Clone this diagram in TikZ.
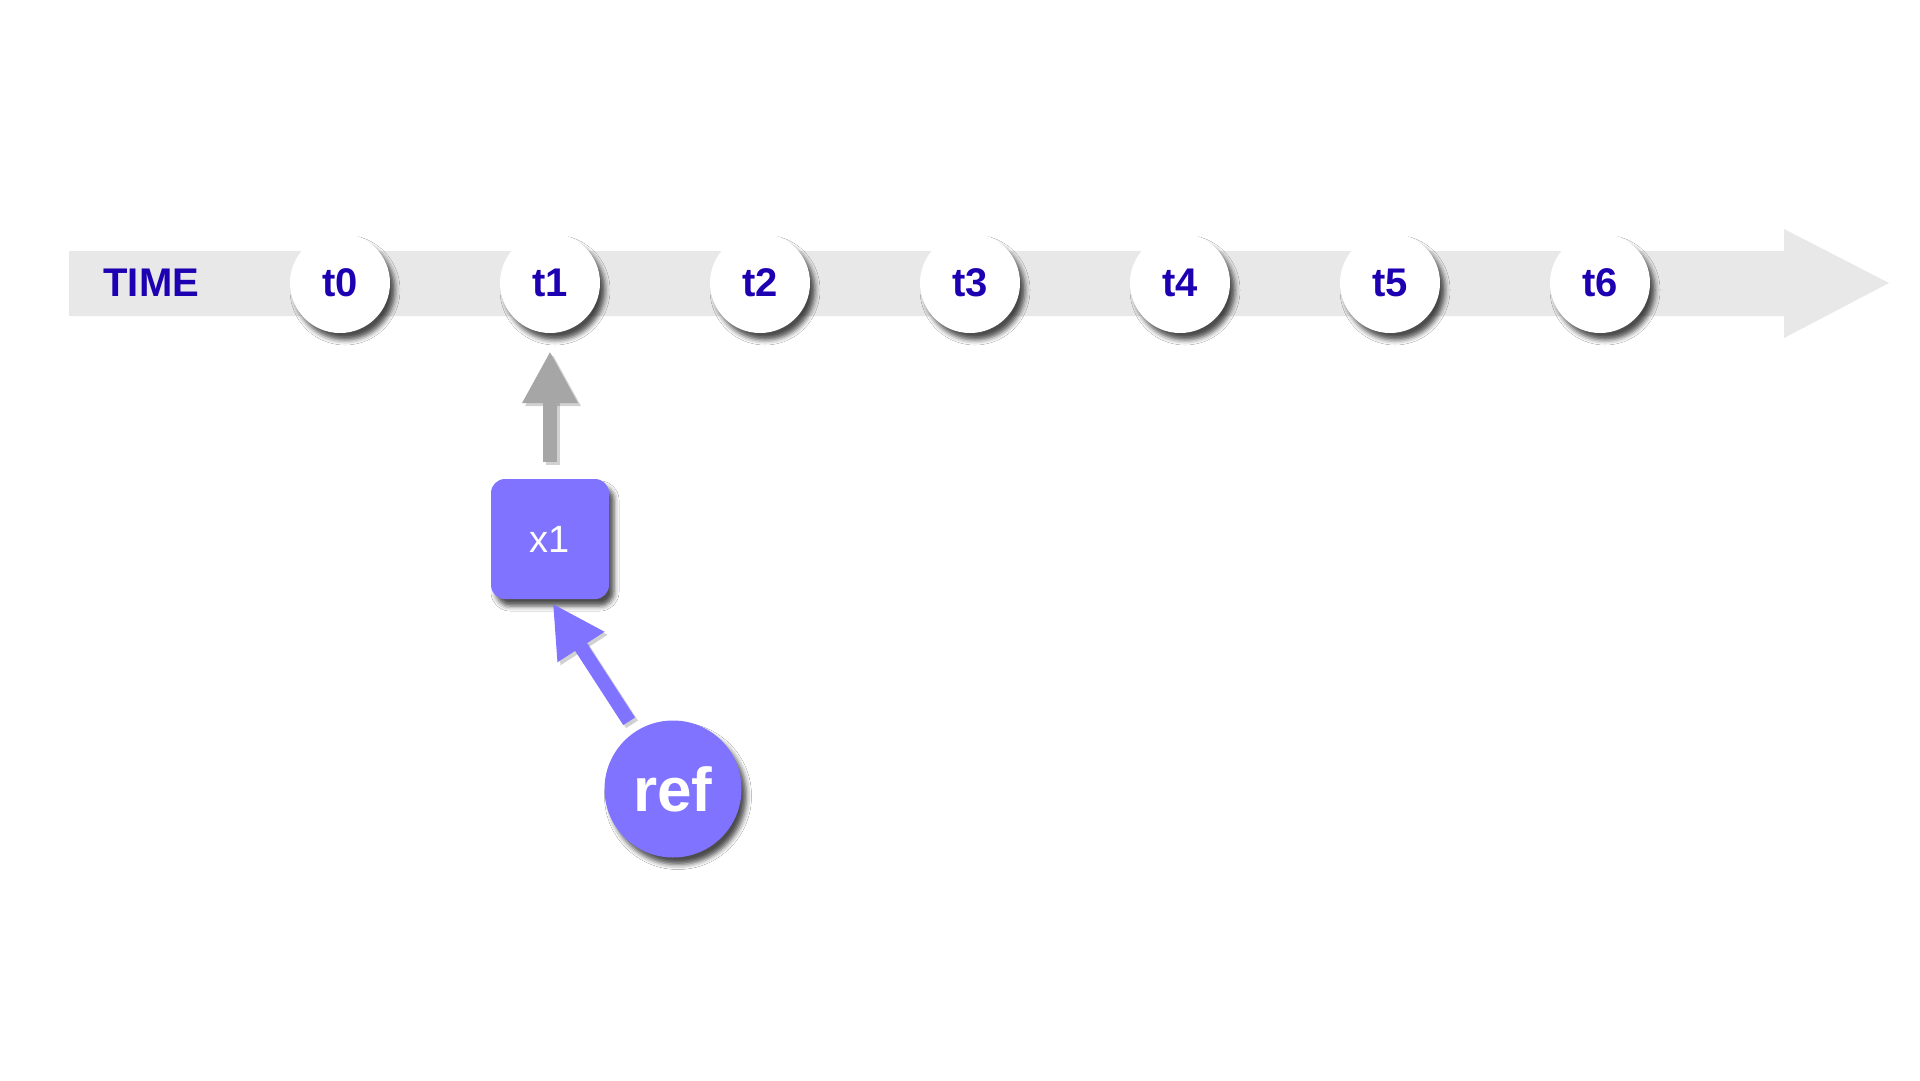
\documentclass[tikz,border=0pt]{standalone}
\usepackage{fontspec}
\setmainfont{Liberation Sans}
\usetikzlibrary{arrows.meta,shadows.blur}
\definecolor{bandgray}{RGB}{232,232,232}
\definecolor{arrowgray}{RGB}{166,166,166}
\definecolor{violet}{RGB}{128,115,255}
\definecolor{inkblue}{RGB}{28,0,178}
\tikzset{
  softshadow/.style={blur shadow={shadow xshift=5pt, shadow yshift=-7pt,
      shadow blur radius=5pt, shadow opacity=70}},
  tick/.style={circle, fill=white, minimum size=100pt, inner sep=0pt,
      softshadow, text=inkblue, font=\fontsize{40}{40}\selectfont\bfseries},
  valuebox/.style={rectangle, rounded corners=14pt, fill=violet,
      minimum width=118pt, minimum height=120pt, inner sep=0pt, softshadow,
      text=white, font=\fontsize{38}{38}\selectfont},
  refnode/.style={circle, fill=violet, minimum size=137pt, inner sep=0pt,
      softshadow, text=white, font=\fontsize{62}{62}\selectfont\bfseries},
  blockarrow/.style={line width=14pt, line cap=butt,
      -{Triangle[length=52pt,width=52pt]}},
  arrowshadow/.style={blockarrow, draw=black, fill=black, opacity=0.18,
      transform canvas={shift={(3pt,-3pt)}}},
}
\begin{document}
\begin{tikzpicture}[x=1pt,y=-1pt]
\useasboundingbox (0,0) rectangle (1920,1080);
\fill[white] (0,0) rectangle (1920,1080);
% time axis drawn as a broad arrow band
\fill[bandgray] (69,251) -- (1784,251) -- (1784,229) -- (1889,283)
  -- (1784,338) -- (1784,316) -- (69,316) -- cycle;
\node[text=inkblue, font=\fontsize{40}{40}\selectfont\bfseries, anchor=west]
  (time) at (100,283) {TIME};
% time points
\foreach \i in {0,...,6} {
  \node[tick] (t\i) at (340+210*\i,283) {t\i};
}
% value and reference
\node[valuebox] (x1) at (550,539) {x1};
\node[refnode] (ref) at (673,789) {ref};
% connectors, each with a faint offset shadow underneath
\draw[arrowshadow, shorten <=17pt, shorten >=18pt] (x1.north) -- (t1.south);
\draw[blockarrow, draw=arrowgray, fill=arrowgray,
  shorten <=17pt, shorten >=18pt] (x1.north) -- (t1.south);
\draw[arrowshadow, shorten <=12pt, shorten >=5pt] (ref) -- (x1.south);
\draw[blockarrow, draw=violet, fill=violet,
  shorten <=12pt, shorten >=5pt] (ref) -- (x1.south);
\end{tikzpicture}
\end{document}
